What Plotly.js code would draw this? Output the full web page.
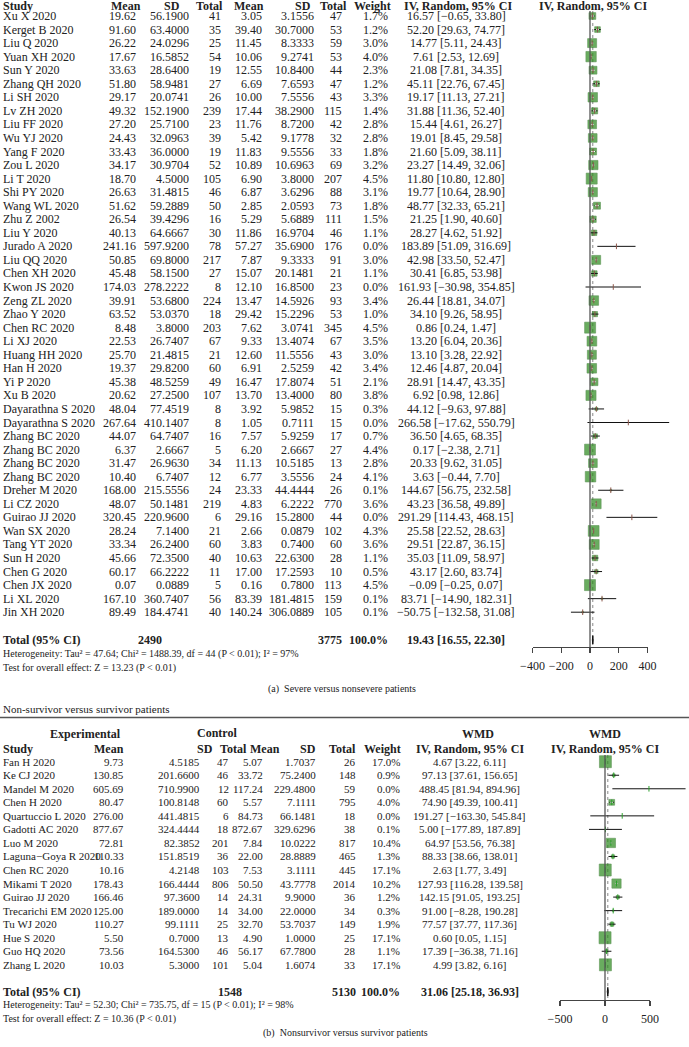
<!DOCTYPE html>
<html>
<head>
<meta charset="utf-8">
<script src="https://cdn.plot.ly/plotly-3.0.1.min.js"></script>
<style>
body {margin: 0; background: #fff;}
#chart {width: 689px; height: 1047px;}
</style>
</head>
<body>
<div id="chart"></div>
<script>
// (a) severe versus nonsevere patients
let studyA = ['Xu X 2020', 'Kerget B 2020', 'Liu Q 2020', 'Yuan XH 2020', 'Sun Y 2020', 'Zhang QH 2020', 'Li SH 2020',
    'Lv ZH 2020', 'Liu FF 2020', 'Wu YJ 2020', 'Yang F 2020', 'Zou L 2020', 'Li T 2020', 'Shi PY 2020', 'Wang WL 2020',
    'Zhu Z 2002', 'Liu Y 2020', 'Jurado A 2020', 'Liu QQ 2020', 'Chen XH 2020', 'Kwon JS 2020', 'Zeng ZL 2020',
    'Zhao Y 2020', 'Chen RC 2020', 'Li XJ 2020', 'Huang HH 2020', 'Han H 2020', 'Yi P 2020', 'Xu B 2020',
    'Dayarathna S 2020', 'Dayarathna S 2020', 'Zhang BC 2020', 'Zhang BC 2020', 'Zhang BC 2020', 'Zhang BC 2020',
    'Dreher M 2020', 'Li CZ 2020', 'Guirao JJ 2020', 'Wan SX 2020', 'Tang YT 2020', 'Sun H 2020', 'Chen G 2020',
    'Chen JX 2020', 'Li XL 2020', 'Jin XH 2020'];
let meanExpA = [19.62, 91.60, 26.22, 17.67, 33.63, 51.80, 29.17, 49.32, 27.20, 24.43, 33.43, 34.17, 18.70, 26.63, 51.62,
    26.54, 40.13, 241.16, 50.85, 45.48, 174.03, 39.91, 63.52, 8.48, 22.53, 25.70, 19.37, 45.38, 20.62, 48.04, 267.64,
    44.07, 6.37, 31.47, 10.40, 168.00, 48.07, 320.45, 28.24, 33.34, 45.66, 60.17, 0.07, 167.10, 89.49];
let sdExpA = [56.19, 63.4, 24.0296, 16.5852, 28.64, 58.9481, 20.0741, 152.19, 25.71, 32.0963, 36.0, 30.9704, 4.5, 31.4815,
    59.2889, 39.4296, 64.6667, 597.92, 69.8, 58.15, 278.2222, 53.68, 53.037, 3.8, 26.7407, 21.4815, 29.82, 48.5259, 27.25,
    77.4519, 410.1407, 64.7407, 2.6667, 26.963, 6.7407, 215.5556, 50.1481, 220.96, 7.14, 26.24, 72.35, 66.2222, 0.0889,
    360.7407, 184.4741];
let nExpA = [41, 35, 25, 54, 19, 27, 26, 239, 23, 39, 19, 52, 105, 46, 50, 16, 30, 78, 217, 27, 8, 224, 18, 203, 67, 21,
    60, 49, 107, 8, 8, 16, 5, 34, 12, 24, 219, 6, 21, 60, 40, 11, 5, 56, 40];
let meanCtrlA = [3.05, 39.40, 11.45, 10.06, 12.55, 6.69, 10.00, 17.44, 11.76, 5.42, 11.83, 10.89, 6.90, 6.87, 2.85, 5.29,
    11.86, 57.27, 7.87, 15.07, 12.10, 13.47, 29.42, 7.62, 9.33, 12.60, 6.91, 16.47, 13.70, 3.92, 1.05, 7.57, 6.20, 11.13,
    6.77, 23.33, 4.83, 29.16, 2.66, 3.83, 10.63, 17.00, 0.16, 83.39, 140.24];
let sdCtrlA = [3.1556, 30.7, 8.3333, 9.2741, 10.84, 7.6593, 7.5556, 38.29, 8.72, 9.1778, 9.5556, 10.6963, 3.8, 3.6296,
    2.0593, 5.6889, 16.9704, 35.69, 9.3333, 20.1481, 16.85, 14.5926, 15.2296, 3.0741, 13.4074, 11.5556, 2.5259, 17.8074,
    13.4, 5.9852, 0.7111, 5.9259, 2.6667, 10.5185, 3.5556, 44.4444, 6.2222, 15.28, 0.0879, 0.74, 22.63, 17.2593, 0.78,
    181.4815, 306.0889];
let nCtrlA = [47, 53, 59, 53, 44, 47, 43, 115, 42, 32, 33, 69, 207, 88, 73, 111, 46, 176, 91, 21, 23, 93, 53, 345, 67, 43,
    42, 51, 80, 15, 15, 17, 27, 13, 24, 26, 770, 44, 102, 60, 28, 10, 113, 159, 105];
let weightA = [1.7, 1.2, 3.0, 4.0, 2.3, 1.2, 3.3, 1.4, 2.8, 2.8, 1.8, 3.2, 4.5, 3.1, 1.8, 1.5, 1.1, 0.0, 3.0, 1.1, 0.0, 3.4,
    1.0, 4.5, 3.5, 3.0, 3.4, 2.1, 3.8, 0.3, 0.0, 0.7, 4.4, 2.8, 4.1, 0.1, 3.6, 0.0, 4.3, 3.6, 1.1, 0.5, 4.5, 0.1, 0.1];
let wmdA = [16.57, 52.20, 14.77, 7.61, 21.08, 45.11, 19.17, 31.88, 15.44, 19.01, 21.60, 23.27, 11.80, 19.77, 48.77, 21.25,
    28.27, 183.89, 42.98, 30.41, 161.93, 26.44, 34.10, 0.86, 13.20, 13.10, 12.46, 28.91, 6.92, 44.12, 266.58, 36.50, 0.17,
    20.33, 3.63, 144.67, 43.23, 291.29, 25.58, 29.51, 35.03, 43.17, -0.09, 83.71, -50.75];
let lowA = [-0.65, 29.63, 5.11, 2.53, 7.81, 22.76, 11.13, 11.36, 4.61, 8.45, 5.09, 14.49, 10.80, 10.64, 32.33, 1.90, 4.62,
    51.09, 33.50, 6.85, -30.98, 18.81, 9.26, 0.24, 6.04, 3.28, 4.87, 14.47, 0.98, -9.63, -17.62, 4.65, -2.38, 9.62, -0.44,
    56.75, 36.58, 114.43, 22.52, 22.87, 11.09, 2.60, -0.25, -14.90, -132.58];
let highA = [33.80, 74.77, 24.43, 12.69, 34.35, 67.45, 27.21, 52.40, 26.27, 29.58, 38.11, 32.06, 12.80, 28.90, 65.21, 40.60,
    51.92, 316.69, 52.47, 53.98, 354.85, 34.07, 58.95, 1.47, 20.36, 22.92, 20.04, 43.35, 12.86, 97.88, 550.79, 68.35, 2.71,
    31.05, 7.70, 232.58, 49.89, 468.15, 28.63, 36.15, 58.97, 83.74, 0.07, 182.31, 31.08];
let totalsA = [2490, 3775];
let pooledA = [19.43, 16.55, 22.30];
let hetA = ['47.64', '1488.39', '44', '97'];
let zA = '13.23';
let ticksA = [-400, -200, 0, 200, 400];

// (b) nonsurvivor versus survivor patients
let studyB = ['Fan H 2020', 'Ke CJ 2020', 'Mandel M 2020', 'Chen H 2020', 'Quartuccio L 2020', 'Gadotti AC 2020',
    'Luo M 2020', 'Laguna−Goya R 2020', 'Chen RC 2020', 'Mikami T 2020', 'Guirao JJ 2020', 'Trecarichi EM 2020',
    'Tu WJ 2020', 'Hue S 2020', 'Guo HQ 2020', 'Zhang L 2020'];
let meanExpB = [9.73, 130.85, 605.69, 80.47, 276.00, 877.67, 72.81, 110.33, 10.16, 178.43, 166.46, 125.00, 110.27, 5.50,
    73.56, 10.03];
let sdExpB = [4.5185, 201.66, 710.99, 100.8148, 441.4815, 324.4444, 82.3852, 151.8519, 4.2148, 166.4444, 97.36, 189.0,
    99.1111, 0.7, 164.53, 5.3];
let nExpB = [47, 46, 12, 60, 6, 18, 201, 36, 103, 806, 14, 14, 25, 13, 46, 101];
let meanCtrlB = [5.07, 33.72, 117.24, 5.57, 84.73, 872.67, 7.84, 22.00, 7.53, 50.50, 24.31, 34.00, 32.70, 4.90, 56.17, 5.04];
let sdCtrlB = [1.7037, 75.24, 229.48, 7.1111, 66.1481, 329.6296, 10.0222, 28.8889, 3.1111, 43.7778, 9.9, 22.0, 53.7037,
    1.0, 67.78, 1.6074];
let nCtrlB = [26, 148, 59, 795, 18, 38, 817, 465, 445, 2014, 36, 34, 149, 25, 28, 33];
let weightB = [17.0, 0.9, 0.0, 4.0, 0.0, 0.1, 10.4, 1.3, 17.1, 10.2, 1.2, 0.3, 1.9, 17.1, 1.1, 17.1];
let wmdB = [4.67, 97.13, 488.45, 74.90, 191.27, 5.00, 64.97, 88.33, 2.63, 127.93, 142.15, 91.00, 77.57, 0.60, 17.39, 4.99];
let lowB = [3.22, 37.61, 81.94, 49.39, -163.30, -177.89, 53.56, 38.66, 1.77, 116.28, 91.05, -8.28, 37.77, 0.05, -36.38, 3.82];
let highB = [6.11, 156.65, 894.96, 100.41, 545.84, 187.89, 76.38, 138.01, 3.49, 139.58, 193.25, 190.28, 117.36, 1.15,
    71.16, 6.16];
let totalsB = [1548, 5130];
let pooledB = [31.06, 25.18, 36.93];
let hetB = ['52.30', '735.75', '15', '98'];
let zB = '10.36';
let ticksB = [-500, 0, 500];

const W = 689, H = 1047;
const FONT = 'Liberation Serif, Times New Roman, serif';
const INK = '#222';
const GREEN = '#2b8a1c';

function px2x(p) { return p / W; }
function px2y(p) { return 1 - p / H; }
function fmt(v, d) { return v.toFixed(d).replace('-', '\u2212'); }
function ciText(e, l, h) { return `${fmt(e, 2)} [${fmt(l, 2)}, ${fmt(h, 2)}]`; }

let annotations = [];
function txt(s, x, y, anchor, size, bold) {
    annotations.push({
        text: bold ? `<b>${s}</b>` : s,
        xref: 'paper', yref: 'paper',
        x: px2x(x), y: px2y(y),
        xanchor: anchor, yanchor: 'middle',
        showarrow: false, borderpad: 0,
        font: {family: FONT, size: size || 12, color: INK}
    });
}

let traces = [];
let layout = {
    width: W, height: H,
    margin: {l: 0, r: 0, t: 0, b: 0},
    paper_bgcolor: '#fff', plot_bgcolor: 'rgba(0,0,0,0)',
    showlegend: false,
    font: {family: FONT, color: INK},
    annotations: annotations,
    shapes: []
};

// builds one forest panel: table text + squares/CIs on its own axes
function panel(p) {
    let rowY = i => p.rowTop + p.rowH * i;
    let rowOf = px => (px - p.rowTop) / p.rowH;
    let fs = p.fontSize;

    // text columns
    p.study.forEach(function(s, i) {
        let y = rowY(i);
        txt(s, 2, y, 'left', p.nameSize);
        txt(fmt(p.meanExp[i], 2), p.cols[0], y, 'right', fs);
        txt(fmt(p.sdExp[i], 4), p.cols[1], y, 'right', fs);
        txt(String(p.nExp[i]), p.cols[2], y, 'right', fs);
        txt(fmt(p.meanCtrl[i], 2), p.cols[3], y, 'right', fs);
        txt(fmt(p.sdCtrl[i], 4), p.cols[4], y, 'right', fs);
        txt(String(p.nCtrl[i]), p.cols[5], y, 'right', fs);
        txt(p.weight[i].toFixed(1) + '%', p.cols[6], y, 'right', fs);
        txt(ciText(p.wmd[i], p.low[i], p.high[i]), p.cols[7], y, 'center', fs);
    });
    p.headers.forEach(h => txt(h[0], h[1], h[3] || p.headerY, h[2], 12, true));

    txt('Total (95% CI)', 2, p.totalY, 'left', 12, true);
    txt(String(p.totals[0]), p.totalCols[0], p.totalY, 'right', 12, true);
    txt(String(p.totals[1]), p.totalCols[1], p.totalY, 'right', 12, true);
    txt('100.0%', p.cols[6], p.totalY, 'right', 12, true);
    txt(ciText(p.pooled[0], p.pooled[1], p.pooled[2]), p.cols[7], p.totalY, 'center', 12, true);
    txt(`Heterogeneity: Tau² = ${p.het[0]}; Chi² = ${p.het[1]}, df = ${p.het[2]} (P &lt; 0.01); I² = ${p.het[3]}%`,
        2, p.hetY, 'left', 10);
    txt(`Test for overall effect: Z = ${p.z} (P &lt; 0.01)`, 2, p.hetY + 13.5, 'left', 10);
    txt(p.caption, p.captionX, p.captionY, 'center', 10);

    // axes
    let xa = 'xaxis' + p.xData, xd = 'xaxis' + p.xDisp, ya = 'yaxis' + p.yId;
    let tick = p.ticks[p.ticks.length - 1];
    layout[xa] = {
        domain: [px2x(p.forestPx[0]), px2x(p.forestPx[1])],
        range: [(p.forestPx[0] - p.zeroPx) / p.scale, (p.forestPx[1] - p.zeroPx) / p.scale],
        anchor: 'y' + p.yId, visible: false, fixedrange: true
    };
    layout[xd] = {
        domain: [px2x(p.zeroPx - tick * p.scale), px2x(p.zeroPx + tick * p.scale)],
        range: [-tick, tick],
        anchor: 'y' + p.yId, side: 'bottom',
        showgrid: false, zeroline: false,
        showline: true, linecolor: '#444', linewidth: 1.3,
        ticks: 'outside', ticklen: 5, tickwidth: 1.3, tickcolor: '#444',
        tickvals: p.ticks, ticklabelstandoff: 2,
        tickfont: {family: FONT, size: 12, color: INK},
        fixedrange: true
    };
    layout[ya] = {
        domain: [px2y(p.axisPx), px2y(p.forestTop)],
        range: [rowOf(p.axisPx), rowOf(p.forestTop)],
        anchor: 'x' + p.xData, visible: false, fixedrange: true
    };

    let xD = 'x' + p.xData, xS = 'x' + p.xDisp, yR = 'y' + p.yId;
    let idx = p.study.map((s, i) => i);
    let lineTop = rowOf(p.lineTopPx);
    let lineBot = rowOf(p.axisPx);

    // zero line and pooled estimate line
    traces.push({type: 'scatter', mode: 'lines', x: [0, 0], y: [lineTop, lineBot], xaxis: xS, yaxis: yR,
        line: {color: '#555', width: 1.3}, hoverinfo: 'skip'});
    traces.push({type: 'scatter', mode: 'lines', x: [p.pooled[0], p.pooled[0]], y: [lineTop, lineBot], xaxis: xD, yaxis: yR,
        line: {color: '#888', width: 1, dash: 'dot'}, hoverinfo: 'skip'});

    // weight squares
    let wMax = Math.max(...p.weight);
    let sizes = p.weight.map(w => p.boxMax * Math.sqrt(w / wMax));
    traces.push({type: 'scatter', mode: 'markers', x: p.wmd, y: idx, xaxis: xD, yaxis: yR,
        marker: {symbol: 'square', size: sizes, color: GREEN, line: {color: '#1d6a12', width: 0.6}},
        hoverinfo: 'skip'});

    // confidence intervals
    let cx = [], cy = [];
    idx.forEach(i => { cx.push(p.low[i], p.high[i], null); cy.push(i, i, null); });
    traces.push({type: 'scatter', mode: 'lines', x: cx, y: cy, xaxis: xD, yaxis: yR,
        line: {color: '#111', width: 1}, hoverinfo: 'skip'});

    // white part of the interval inside the larger boxes
    let wx = [], wy = [];
    idx.forEach(function(i) {
        if (sizes[i] < 5.5) return;
        let hw = (sizes[i] / 2 - 1.5) / p.scale;
        wx.push(Math.max(p.low[i], p.wmd[i] - hw), Math.min(p.high[i], p.wmd[i] + hw), null);
        wy.push(i, i, null);
    });
    traces.push({type: 'scatter', mode: 'lines', x: wx, y: wy, xaxis: xD, yaxis: yR,
        line: {color: '#fff', width: 1}, hoverinfo: 'skip'});

    // estimate ticks
    traces.push({type: 'scatter', mode: 'markers', x: p.wmd, y: idx, xaxis: xD, yaxis: yR,
        marker: {symbol: 'line-ns-open', size: 4,
            line: {width: 1, color: sizes.map(s => s >= 5.5 ? '#fff' : '#111')}},
        hoverinfo: 'skip'});

    // pooled diamond
    let tr = rowOf(p.totalY);
    traces.push({type: 'scatter', mode: 'lines', fill: 'toself', fillcolor: '#111',
        x: [p.pooled[1], p.pooled[0], p.pooled[2], p.pooled[0], p.pooled[1]],
        y: [tr, tr - 0.32, tr, tr + 0.32, tr], xaxis: xD, yaxis: yR,
        line: {color: '#111', width: 1}, hoverinfo: 'skip'});
}

panel({
    study: studyA, meanExp: meanExpA, sdExp: sdExpA, nExp: nExpA, meanCtrl: meanCtrlA, sdCtrl: sdCtrlA, nCtrl: nCtrlA,
    weight: weightA, wmd: wmdA, low: lowA, high: highA, totals: totalsA, pooled: pooledA, het: hetA, z: zA, ticks: ticksA,
    rowTop: 16, rowH: 13.55, headerY: 6, totalY: 640, hetY: 654, captionY: 689, captionX: 341.5,
    fontSize: 12, nameSize: 12,
    caption: '(a)  Severe versus nonsevere patients',
    cols: [137, 190, 222, 263, 315, 343, 389, 456],
    totalCols: [163, 343],
    headers: [['Study', 2, 'left'], ['Mean', 126, 'center'], ['SD', 171.5, 'center'], ['Total', 210, 'center'],
        ['Mean', 249, 'center'], ['SD', 302.5, 'center'], ['Total', 333, 'center'], ['Weight', 372.5, 'center'],
        ['IV, Random, 95% CI', 458, 'center'], ['IV, Random, 95% CI', 592.5, 'center']],
    xData: 2, xDisp: 3, yId: 2,
    forestPx: [515, 689], forestTop: 0, zeroPx: 590, scale: 0.14375, axisPx: 647, lineTopPx: 11, boxMax: 11
});

panel({
    study: studyB, meanExp: meanExpB, sdExp: sdExpB, nExp: nExpB, meanCtrl: meanCtrlB, sdCtrl: sdCtrlB, nCtrl: nCtrlB,
    weight: weightB, wmd: wmdB, low: lowB, high: highB, totals: totalsB, pooled: pooledB, het: hetB, z: zB, ticks: ticksB,
    rowTop: 761.7, rowH: 13.54, headerY: 749, totalY: 991.7, hetY: 1005, captionY: 1033, captionX: 346,
    fontSize: 11, nameSize: 11,
    caption: '(b)  Nonsurvivor versus survivor patients',
    cols: [125, 201, 230, 264, 317, 357, 401, 469.5],
    totalCols: [243, 357],
    headers: [['Study', 2, 'left'], ['Mean', 125, 'right'], ['SD', 214, 'right'], ['Total', 248, 'right'],
        ['Mean', 281, 'right'], ['SD', 317, 'right'], ['Total', 357, 'right'], ['Weight', 401.5, 'right'],
        ['IV, Random, 95% CI', 470, 'center'], ['IV, Random, 95% CI', 605, 'center'],
        ['Experimental', 85, 'center', 734], ['Control', 217, 'center', 733],
        ['WMD', 478, 'center', 734], ['WMD', 605, 'center', 734]],
    xData: 4, xDisp: 5, yId: 3,
    forestPx: [520, 689], forestTop: 735, zeroPx: 605, scale: 0.09, axisPx: 1000, lineTopPx: 755, boxMax: 12
});

// section title and rule of the second panel
txt('Non-survivor versus survivor patients', 2, 709, 'left', 11);
layout.shapes.push({type: 'line', xref: 'paper', yref: 'paper', x0: 0, x1: 1, y0: px2y(717.5), y1: px2y(717.5),
    line: {color: '#555', width: 1.3}});

Plotly.newPlot('chart', traces, layout, {staticPlot: true});
</script>
</body>
</html>
